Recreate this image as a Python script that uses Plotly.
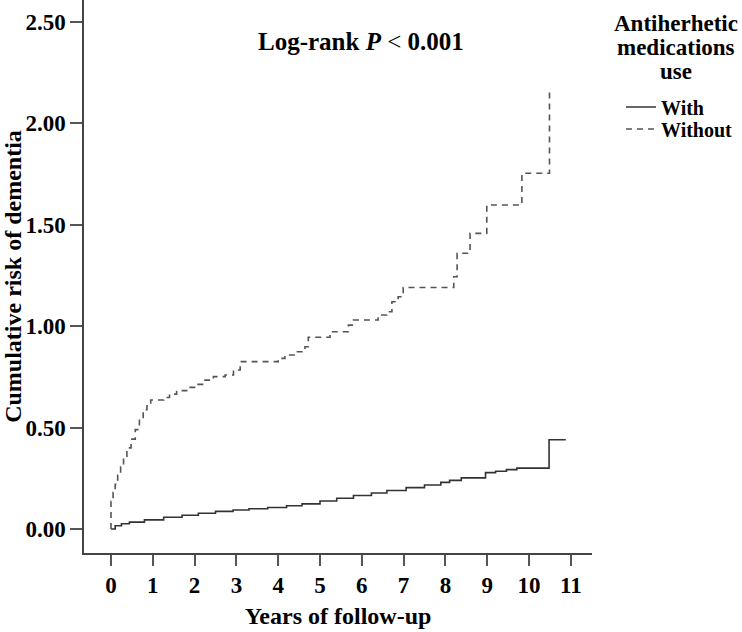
import plotly.graph_objects as go

# ---- data ----
without_years = [0, 0, 0.05, 0.10, 0.16, 0.23, 0.30, 0.38, 0.48, 0.58, 0.68, 0.77, 0.86, 0.95,
                 1.26, 1.40, 1.57, 1.81, 2.05, 2.25, 2.45, 2.73, 2.93, 3.09, 4.00, 4.16, 4.40,
                 4.64, 4.72, 5.24, 5.68, 5.80, 6.39, 6.60, 6.72, 6.87, 6.99, 8.20, 8.28, 8.59,
                 8.99, 9.83, 10.49, 10.55]
without_risk = [0, 0.136, 0.18, 0.22, 0.265, 0.307, 0.35, 0.40, 0.443, 0.49, 0.54, 0.588, 0.615,
                0.636, 0.648, 0.665, 0.682, 0.698, 0.713, 0.734, 0.751, 0.759, 0.784, 0.825,
                0.841, 0.858, 0.874, 0.898, 0.945, 0.972, 1.005, 1.03, 1.055, 1.071, 1.12,
                1.145, 1.19, 1.243, 1.359, 1.457, 1.597, 1.753, 2.155, 2.155]

with_years = [0, 0.1, 0.25, 0.44, 0.8, 1.26, 1.7, 2.09, 2.5, 2.92, 3.3, 3.75, 4.2, 4.57, 5.0,
              5.4, 5.8, 6.23, 6.6, 7.06, 7.5, 7.89, 8.1, 8.38, 8.96, 9.2, 9.46, 9.71, 10.48, 10.88]
with_risk = [0, 0.016, 0.026, 0.034, 0.045, 0.058, 0.068, 0.078, 0.087, 0.094, 0.10, 0.106,
             0.115, 0.124, 0.138, 0.152, 0.165, 0.178, 0.19, 0.204, 0.217, 0.23, 0.24, 0.252,
             0.278, 0.285, 0.293, 0.30, 0.44, 0.44]

x_ticks = list(range(0, 12))
y_ticks = [0, 0.5, 1.0, 1.5, 2.0, 2.5]
y_ticktext = ["0.00", "0.50", "1.00", "1.50", "2.00", "2.50"]
series_names = ["With", "Without"]
legend_title_lines = ["Antiherhetic", "medications", "use"]

FONT = "Liberation Serif"

# plot area geometry (pixels)
W, H = 742, 632
L, R, T, B = 84, 150, 0, 79
PW, PH = W - L - R, H - T - B

def px_x(p):
    return (p - L) / PW

def px_y(p):
    return 1 - (p - T) / PH

fig = go.Figure()
fig.add_trace(go.Scatter(
    x=with_years, y=with_risk, name=series_names[0], mode="lines", legend="legend",
    line=dict(shape="hv", color="#333333", width=1.6)))
fig.add_trace(go.Scatter(
    x=without_years, y=without_risk, name=series_names[1], mode="lines", legend="legend2",
    line=dict(shape="hv", color="#555555", width=1.6, dash="6px,5px")))

axis_font = dict(family=FONT, size=23, color="black", weight="bold")
title_font = dict(family=FONT, size=24, color="black", weight="bold")
legend_font = dict(family=FONT, size=20, color="black", weight="bold")

fig.update_layout(
    width=W, height=H,
    margin=dict(l=L, r=R, t=T, b=B),
    paper_bgcolor="white", plot_bgcolor="white",
    font=dict(family=FONT, color="black"),
    showlegend=True,
    legend=dict(
        x=px_x(621), y=px_y(107), xanchor="left", yanchor="middle",
        font=legend_font, bgcolor="rgba(0,0,0,0)", itemwidth=30,
    ),
    legend2=dict(
        x=px_x(621), y=px_y(129), xanchor="left", yanchor="middle",
        font=legend_font, bgcolor="rgba(0,0,0,0)", itemwidth=30,
    ),
    xaxis=dict(
        range=[-0.646, 11.507], tickvals=x_ticks, ticks="outside", ticklen=11,
        tickwidth=2, tickcolor="#555555", showline=True, linecolor="#444444",
        linewidth=1.5, showgrid=False, zeroline=False, tickfont=axis_font,
        title=dict(text="Years of follow-up", font=title_font, standoff=10),
    ),
    yaxis=dict(
        range=[-0.118, 2.607], tickvals=y_ticks, ticktext=y_ticktext, ticks="outside",
        ticklen=12, tickwidth=2, tickcolor="#555555", showline=True, linecolor="#444444",
        linewidth=1.5, showgrid=False, zeroline=False, tickfont=axis_font,
        title=dict(text="Cumulative risk of dementia", font=title_font, standoff=4),
    ),
)

fig.add_annotation(
    x=px_x(361), y=px_y(42), xref="paper", yref="paper", showarrow=False,
    xanchor="center", yanchor="middle",
    text="<b>Log-rank </b><b><i>P</i></b> < <b>0.001</b>",
    font=dict(family=FONT, size=25, color="black"),
)

for line_text, ypx in zip(legend_title_lines, [24, 48, 71]):
    fig.add_annotation(
        x=px_x(676), y=px_y(ypx), xref="paper", yref="paper", showarrow=False,
        xanchor="center", yanchor="middle", text="<b>" + line_text + "</b>",
        font=dict(family=FONT, size=23, color="black"),
    )

fig.write_html("out.html", config={"displayModeBar": False},
               post_script="document.body.style.margin='0';")
